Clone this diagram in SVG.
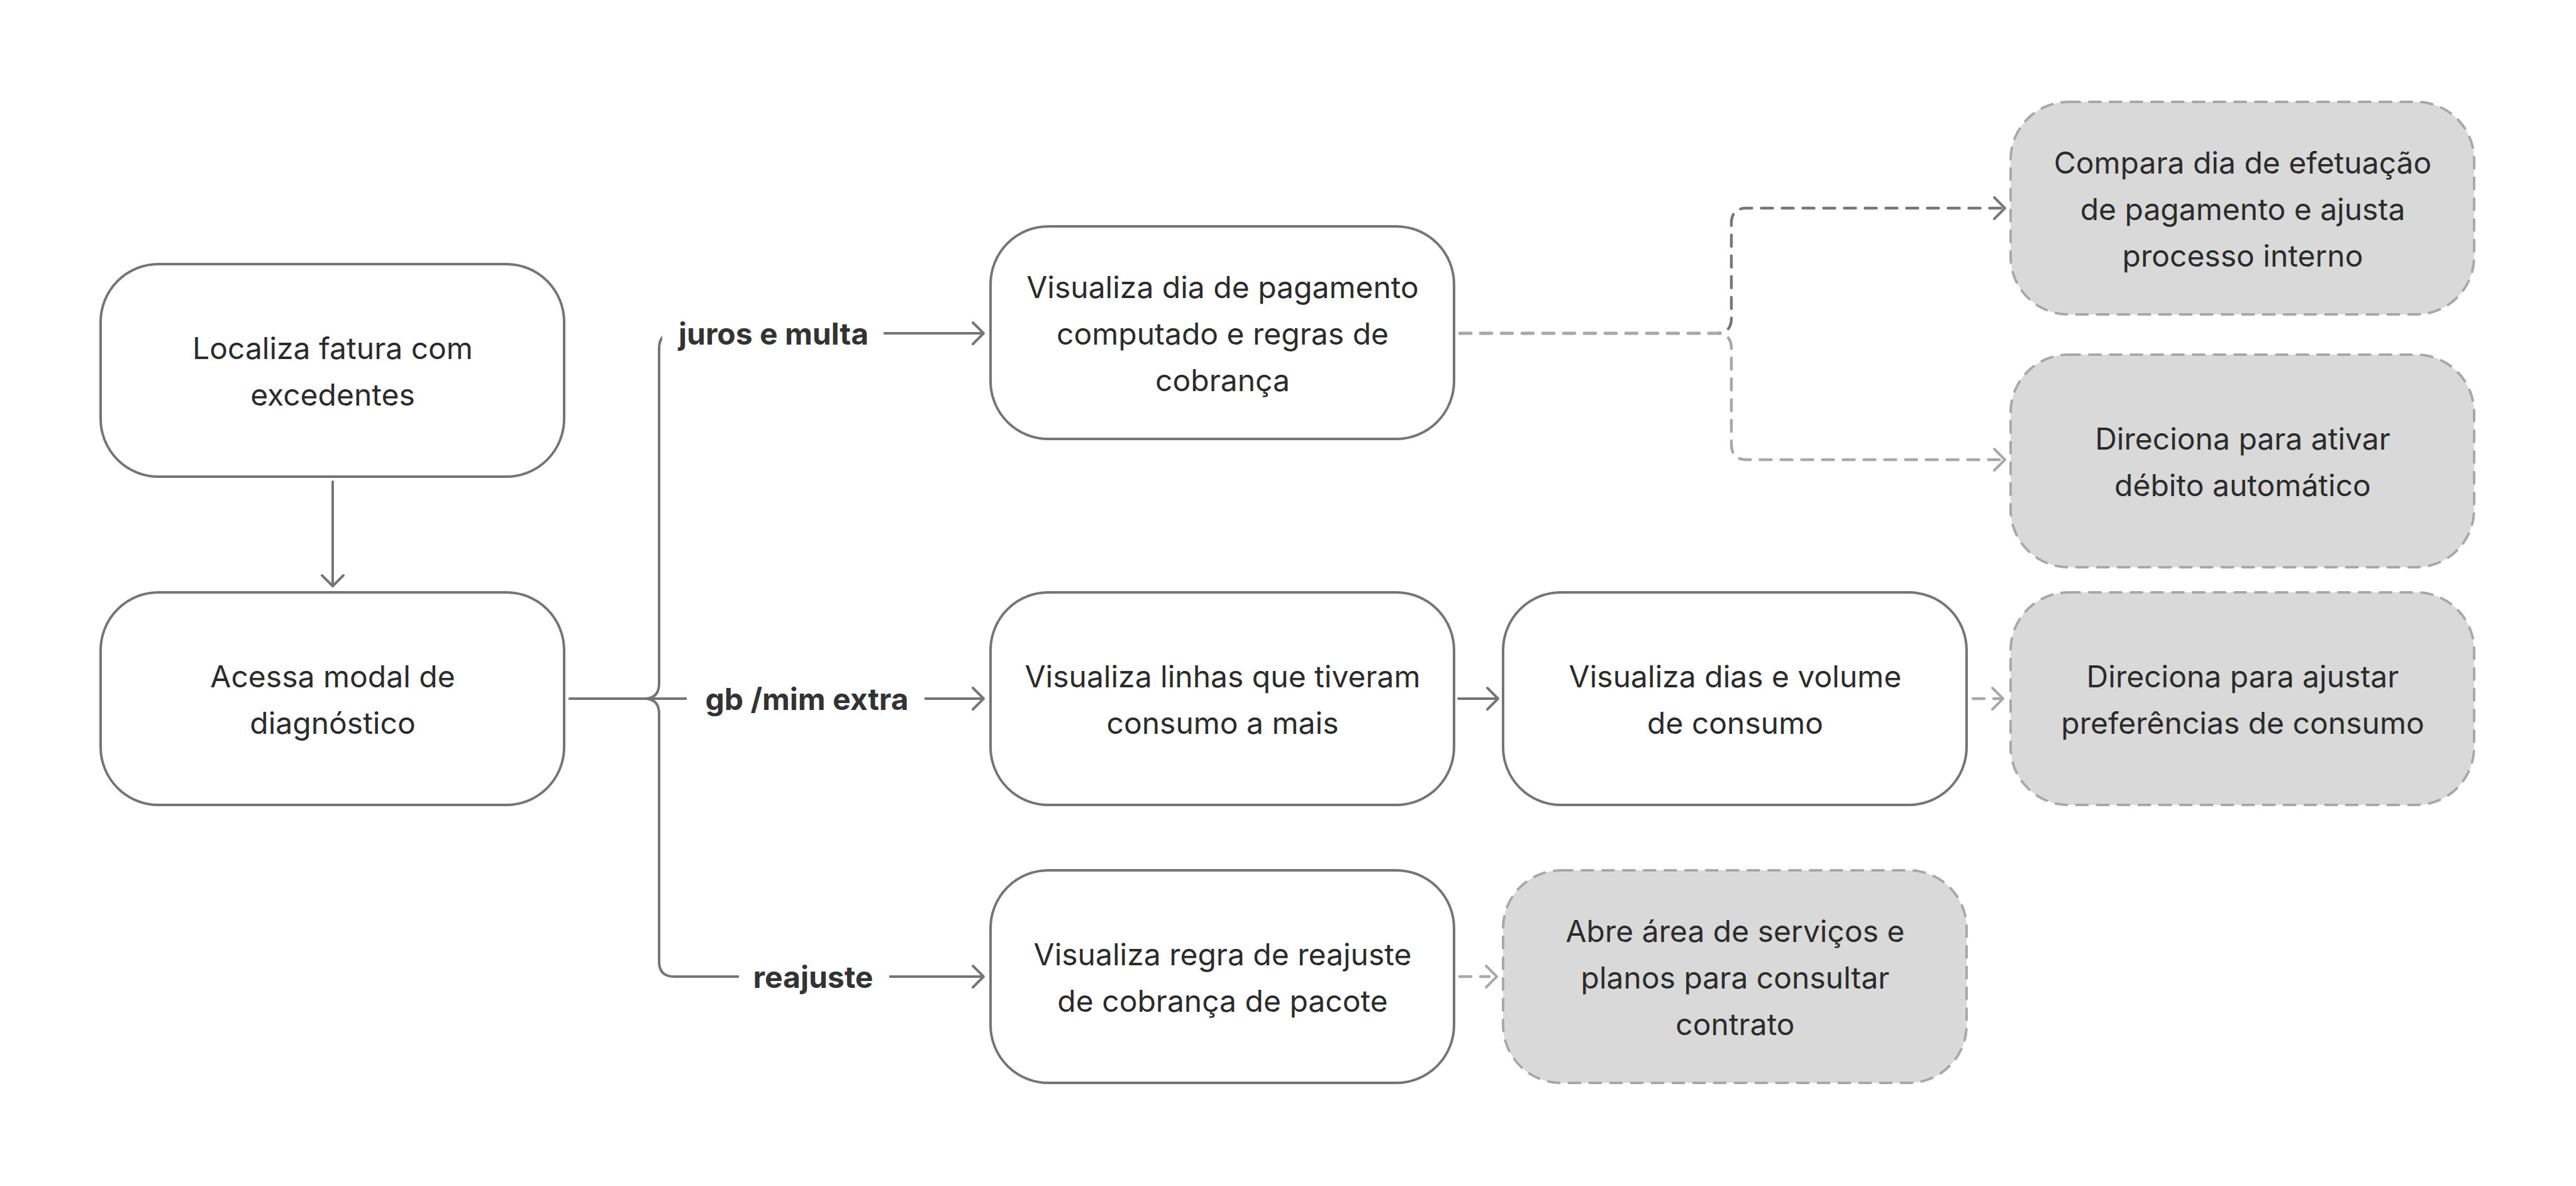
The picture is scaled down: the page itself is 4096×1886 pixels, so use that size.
<svg xmlns="http://www.w3.org/2000/svg" width="4096" height="1886" viewBox="0 0 4096 1886">
<style>
.box{fill:#ffffff;stroke:#757575;stroke-width:4}
.alt{fill:#d9d9d9;stroke:#a8a8a8;stroke-width:4;stroke-dasharray:18 15;stroke-linecap:round}
.t{font-family:Inter,"Noto Sans","Liberation Sans",sans-serif;font-size:48px;fill:#2b2b2b;text-anchor:middle}
.lb{font-family:Inter,"Noto Sans","Liberation Sans",sans-serif;font-size:48px;font-weight:700;fill:#333333;text-anchor:middle}
.c{fill:none;stroke:#757575;stroke-width:4;stroke-linecap:round;stroke-linejoin:round}
.dd{fill:none;stroke:#777777;stroke-width:4.5;stroke-dasharray:18 15;stroke-linecap:round}
.dl{fill:none;stroke:#a8a8a8;stroke-width:4.5;stroke-dasharray:18 15;stroke-linecap:round}
.ah{fill:none;stroke-width:4;stroke-linecap:round;stroke-linejoin:round}
</style>
<rect width="4096" height="1886" fill="#ffffff"/>
<g id="connectors">
  <path class="c" d="M529,766 V930"/>
  <path class="ah" stroke="#757575" d="M512,915 L529,932 L546,915"/>
  <path class="c" d="M906,1111 H1024 Q1048,1111 1048,1087 V554 Q1048,530 1072,530 H1562"/>
  <path class="c" d="M906,1111 H1562"/>
  <path class="c" d="M906,1111 H1024 Q1048,1111 1048,1135 V1529 Q1048,1553 1072,1553 H1562"/>
  <rect x="1053" y="495" width="352" height="70" fill="#ffffff"/>
  <rect x="1092" y="1076" width="378" height="70" fill="#ffffff"/>
  <rect x="1175" y="1518" width="239" height="70" fill="#ffffff"/>
  <path class="ah" stroke="#757575" d="M1547,513 L1564,530 L1547,547"/>
  <path class="ah" stroke="#757575" d="M1547,1094 L1564,1111 L1547,1128"/>
  <path class="ah" stroke="#757575" d="M1547,1536 L1564,1553 L1547,1570"/>
  <path class="c" d="M2319,1111 H2380"/>
  <path class="ah" stroke="#757575" d="M2365,1094 L2382,1111 L2365,1128"/>
  <path class="dd" d="M2321,530 H2729 Q2753,530 2753,506 V355 Q2753,331 2777,331 H3186"/>
  <path class="ah" stroke="#777777" d="M3171,314 L3188,331 L3171,348"/>
  <path class="dl" d="M2321,530 H2729 Q2753,530 2753,554 V707 Q2753,731 2777,731 H3186"/>
  <path class="ah" stroke="#a8a8a8" d="M3171,714 L3188,731 L3171,748"/>
  <path class="dl" d="M3137,1111 H3183"/>
  <path class="ah" stroke="#a8a8a8" d="M3168,1094 L3185,1111 L3168,1128"/>
  <path class="dl" d="M2321,1553 H2368"/>
  <path class="ah" stroke="#a8a8a8" d="M2363,1536 L2380,1553 L2363,1570"/>
  <text class="lb" x="1230" y="548">juros e multa</text>
  <text class="lb" x="1283" y="1129">gb /mim extra</text>
  <text class="lb" x="1293" y="1571">reajuste</text>
</g>
<g id="n1"><rect class="box" x="160" y="420" width="737" height="338" rx="92"/>
<text class="t" x="529" y="571">Localiza fatura com</text><text class="t" x="529" y="645">excedentes</text></g>
<g id="n2"><rect class="box" x="160" y="942" width="737" height="338" rx="92"/>
<text class="t" x="529" y="1093">Acessa modal de</text><text class="t" x="529" y="1167">diagnóstico</text></g>
<g id="n3"><rect class="box" x="1575" y="360" width="737" height="338" rx="92"/>
<text class="t" x="1944" y="474">Visualiza dia de pagamento</text><text class="t" x="1944" y="548">computado e regras de</text><text class="t" x="1944" y="622">cobrança</text></g>
<g id="n4"><rect class="box" x="1575" y="942" width="737" height="338" rx="92"/>
<text class="t" x="1944" y="1093">Visualiza linhas que tiveram</text><text class="t" x="1944" y="1167">consumo a mais</text></g>
<g id="n5"><rect class="box" x="2390" y="942" width="737" height="338" rx="92"/>
<text class="t" x="2759" y="1093">Visualiza dias e volume</text><text class="t" x="2759" y="1167">de consumo</text></g>
<g id="n6"><rect class="box" x="1575" y="1384" width="737" height="338" rx="92"/>
<text class="t" x="1944" y="1535">Visualiza regra de reajuste</text><text class="t" x="1944" y="1609">de cobrança de pacote</text></g>
<g id="n7"><rect class="alt" x="2390" y="1384" width="737" height="338" rx="92"/>
<text class="t" x="2759" y="1498">Abre área de serviços e</text><text class="t" x="2759" y="1572">planos para consultar</text><text class="t" x="2759" y="1646">contrato</text></g>
<g id="n8"><rect class="alt" x="3197" y="162" width="737" height="338" rx="92"/>
<text class="t" x="3566" y="276">Compara dia de efetuação</text><text class="t" x="3566" y="350">de pagamento e ajusta</text><text class="t" x="3566" y="424">processo interno</text></g>
<g id="n9"><rect class="alt" x="3197" y="564" width="737" height="338" rx="92"/>
<text class="t" x="3566" y="715">Direciona para ativar</text><text class="t" x="3566" y="789">débito automático</text></g>
<g id="n10"><rect class="alt" x="3197" y="942" width="737" height="338" rx="92"/>
<text class="t" x="3566" y="1093">Direciona para ajustar</text><text class="t" x="3566" y="1167">preferências de consumo</text></g>
</svg>
